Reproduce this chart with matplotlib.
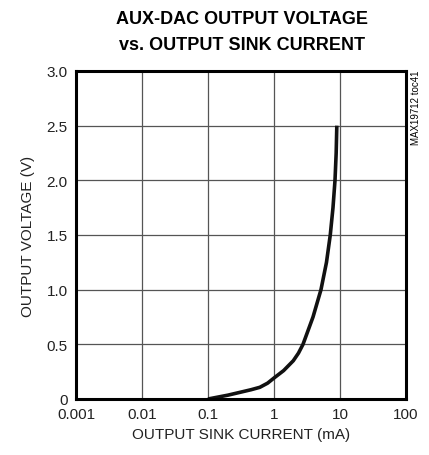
import matplotlib
matplotlib.use("Agg")
import matplotlib.pyplot as plt
from matplotlib.ticker import FixedLocator, NullLocator

current_ma = [0.1, 0.2, 0.305, 0.45, 0.61, 0.8, 1.0, 1.4, 1.96, 2.35, 2.75, 3.9, 5.15, 6.24, 7.12, 7.83, 8.4, 8.75, 8.95]
voltage_v = [0.0, 0.035, 0.061, 0.085, 0.107, 0.145, 0.192, 0.26, 0.35, 0.42, 0.5, 0.75, 1.0, 1.25, 1.5, 1.75, 2.0, 2.25, 2.5]
x_ticks = [0.001, 0.01, 0.1, 1, 10, 100]
x_labels = ["0.001", "0.01", "0.1", "1", "10", "100"]
y_ticks = [0, 0.5, 1.0, 1.5, 2.0, 2.5, 3.0]
y_labels = ["0", "0.5", "1.0", "1.5", "2.0", "2.5", "3.0"]
title_lines = ["AUX-DAC OUTPUT VOLTAGE", "vs. OUTPUT SINK CURRENT"]

fam = ["Liberation Sans", "DejaVu Sans"]
fig = plt.figure(figsize=(4.29, 4.56), dpi=100)
ax = fig.add_axes([76/429, 1-400/456, 330/429, 328/456])
ax.set_xscale("log")
ax.set_xlim(0.001, 100)
ax.set_ylim(0, 3.0)
ax.xaxis.set_major_locator(FixedLocator(x_ticks))
ax.xaxis.set_minor_locator(NullLocator())
ax.set_xticks(x_ticks)
ax.set_xticklabels(x_labels, family=fam, fontsize=11, color="#222222")
ax.set_yticks(y_ticks)
ax.set_yticklabels(y_labels, family=fam, fontsize=11, color="#222222")
ax.tick_params(length=0, pad=6)
ax.grid(True, color="#555555", linewidth=0.9)
for s in ax.spines.values():
    s.set_linewidth(2.2)
    s.set_color("black")
ax.plot(current_ma, voltage_v, color="#111111", linewidth=2.6,
        solid_capstyle="butt", solid_joinstyle="round")
ax.set_xlabel("OUTPUT SINK CURRENT (mA)", family=fam, fontsize=11, labelpad=4, color="#222222")
ax.set_ylabel("OUTPUT VOLTAGE (V)", family=fam, fontsize=11, labelpad=8, color="#222222")
fig.text(242/429, 1-19/456, title_lines[0], ha="center", va="center",
         family=fam, fontweight="bold", fontsize=13)
fig.text(242/429, 1-46/456, title_lines[1], ha="center", va="center",
         family=fam, fontweight="bold", fontsize=13)
fig.text(416/429, 1-108/456, "MAX19712 toc41", rotation=90, ha="center", va="center",
         family=fam, fontsize=7)
fig.savefig("out.png", dpi=100)
